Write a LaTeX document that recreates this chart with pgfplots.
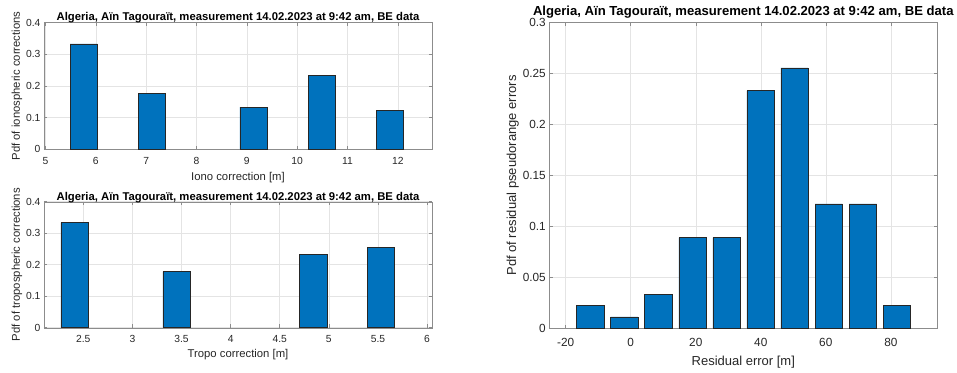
\documentclass[border=0pt]{standalone}
\usepackage{pgfplots}
\pgfplotsset{compat=1.18}
\usepackage{fontspec}
\setmainfont{Liberation Sans}
\definecolor{barblue}{RGB}{0,114,189}
\definecolor{axgray}{RGB}{140,140,140}
\definecolor{txt}{RGB}{38,38,38}
\definecolor{gridc}{RGB}{228,228,228}
\pgfplotsset{
  mstyle/.style={
    scale only axis,
    axis line style={axgray},
    tick style={axgray, line width=0.5pt},
    major tick length=3.5pt,
    tick align=inside,
    tick pos=both,
    grid=major,
    major grid style={gridc, line width=0.5pt},
    axis background/.style={fill=white},
    /pgf/number format/assume math mode=true,
    tick label style={txt},
    label style={txt},
    ymin=0,
    clip=false,
  },
  mbar/.style={ybar, fill=barblue, draw=black!85, line width=0.5pt},
}
\begin{document}
\begin{tikzpicture}
\path[use as bounding box] (0pt,0pt) rectangle (957pt,372pt);
% top-left
\begin{axis}[mstyle, at={(44pt,222.7pt)}, anchor=south west,
  width=388pt, height=126.6pt,
  xmin=4.97, xmax=12.68, ymax=0.4,
  xtick={5,6,...,12}, ytick={0,0.1,0.2,0.3,0.4},
  tick label style={font=\fontsize{10.3}{12}\selectfont},
  xticklabel style={yshift=-4.5pt},
  label style={font=\fontsize{11.3}{13}\selectfont},
  title style={font=\fontsize{11.3}{13}\selectfont\bfseries, text=black, yshift=-10pt},
  title={Algeria, Aïn Tagouraït, measurement 14.02.2023 at 9:42 am, BE data},
  xlabel={Iono correction [m]}, ylabel={Pdf of ionospheric corrections},
  xlabel style={yshift=-0.5pt}, ylabel style={yshift=-3pt},
]
\addplot[mbar, bar width=0.54] coordinates {(5.76,0.3333) (7.11,0.1778) (9.13,0.1333) (10.49,0.2333) (11.84,0.1222)};
\end{axis}
% bottom-left
\begin{axis}[mstyle, at={(44pt,44.3pt)}, anchor=south west,
  width=388pt, height=126pt,
  xmin=2.1, xmax=6.05, ymax=0.4,
  xtick={2.5,3,...,6}, ytick={0,0.1,0.2,0.3,0.4},
  tick label style={font=\fontsize{10.3}{12}\selectfont},
  xticklabel style={yshift=-4pt},
  label style={font=\fontsize{11.3}{13}\selectfont},
  title style={font=\fontsize{11.3}{13}\selectfont\bfseries, text=black, yshift=-10.5pt},
  title={Algeria, Aïn Tagouraït, measurement 14.02.2023 at 9:42 am, BE data},
  xlabel={Tropo correction [m]}, ylabel={Pdf of tropospheric corrections},
  xlabel style={yshift=0pt}, ylabel style={yshift=-3pt},
]
\addplot[mbar, bar width=0.278] coordinates {(2.41,0.3333) (3.45,0.1778) (4.84,0.2333) (5.53,0.2556)};
\end{axis}
% right
\begin{axis}[mstyle, at={(549.3pt,43.7pt)}, anchor=south west,
  width=388pt, height=305.6pt,
  xmin=-25.05, xmax=94.3, ymax=0.3,
  xtick={-20,0,...,80}, ytick={0,0.05,...,0.3},
  yticklabels={0,0.05,0.1,0.15,0.2,0.25,0.3},
  tick label style={font=\fontsize{11.8}{13}\selectfont},
  xticklabel style={yshift=-6pt},
  label style={font=\fontsize{13}{15}\selectfont},
  title style={font=\fontsize{13.1}{15}\selectfont\bfseries, text=black, yshift=-5.5pt},
  title={Algeria, Aïn Tagouraït, measurement 14.02.2023 at 9:42 am, BE data},
  xlabel={Residual error [m]}, ylabel={Pdf of residual pseudorange errors},
  xlabel style={yshift=-3pt}, ylabel style={yshift=-3pt},
]
\addplot[mbar, bar width=8.4] coordinates {(-12.5,0.0222) (-2.0,0.0111) (8.5,0.0333) (19.0,0.0889) (29.5,0.0889) (39.95,0.2333) (50.4,0.2556) (60.9,0.1222) (71.4,0.1222) (81.9,0.0222)};
\end{axis}
\end{tikzpicture}
\end{document}
